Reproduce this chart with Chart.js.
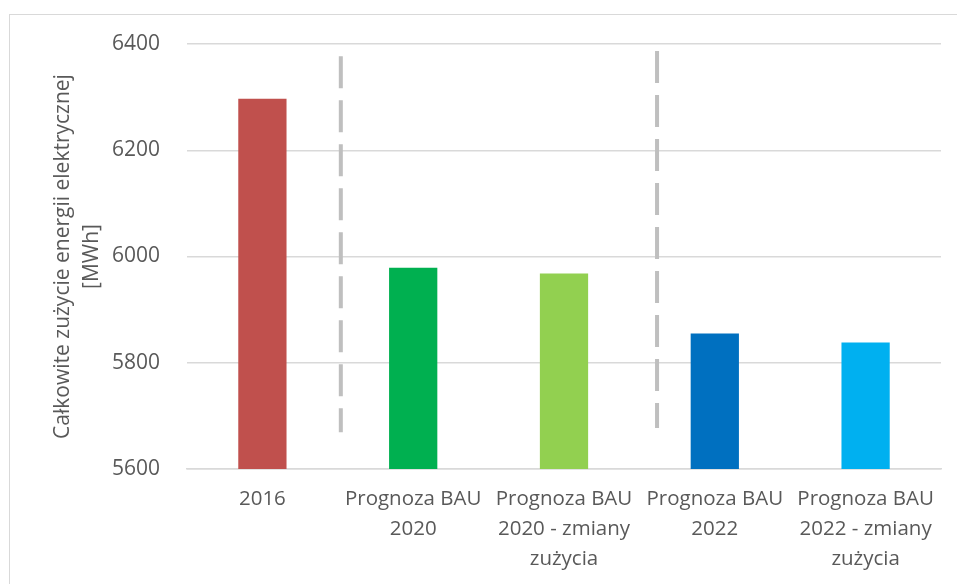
<!DOCTYPE html>
<html>
<head>
<meta charset="utf-8">
<script src="https://cdn.jsdelivr.net/npm/chart.js@4.4.0/dist/chart.umd.min.js"></script>
<style>
  html, body { margin: 0; padding: 0; background: #fff; }
  #ramka { position: absolute; left: 9px; top: 14px; width: 960px; height: 580px; border: 1px solid #d9d9d9; }
  #wykres { position: absolute; left: 0; top: 0; }
</style>
</head>
<body>
<div id="ramka"></div>
<canvas id="wykres" width="957" height="584"></canvas>
<script>
// Kategorie (osie X) i wartości zużycia [MWh]
const kategorie = [
    ['2016'],
    ['Prognoza BAU', '2020'],
    ['Prognoza BAU', '2020 - zmiany', 'zużycia'],
    ['Prognoza BAU', '2022'],
    ['Prognoza BAU', '2022 - zmiany', 'zużycia']
];
const zuzycie = [6297, 5979, 5968, 5855, 5838];
const kolory = ['#c0504d', '#00b050', '#92d050', '#0070c0', '#00b0f0'];
const podzialkaY = [5600, 5800, 6000, 6200, 6400];

// Przerywane linie oddzielające okresy (x w jednostkach indeksu kategorii)
const separatory = [
    { x: 0.52, od: 6377, do: 5669 },
    { x: 2.617, od: 6387, do: 5677 }
];

const liniePrzerywane = {
    id: 'liniePrzerywane',
    afterDatasetsDraw(chart) {
        const ctx = chart.ctx;
        const sx = chart.scales.x;
        const sy = chart.scales.y;
        ctx.save();
        ctx.strokeStyle = '#bfbfbf';
        ctx.lineWidth = 4;
        ctx.setLineDash([32, 12]);
        separatory.forEach(function(s) {
            const px = sx.getPixelForValue(s.x);
            ctx.beginPath();
            ctx.moveTo(px, sy.getPixelForValue(s.od));
            ctx.lineTo(px, sy.getPixelForValue(s.do));
            ctx.stroke();
        });
        ctx.restore();
    }
};

Chart.defaults.font.family = '"Open Sans", sans-serif';
Chart.defaults.color = '#595959';

new Chart(document.getElementById('wykres'), {
    type: 'bar',
    data: {
        labels: kategorie,
        datasets: [{
            data: zuzycie,
            backgroundColor: kolory,
            barPercentage: 0.8,
            categoryPercentage: 0.4
        }]
    },
    options: {
        responsive: false,
        animation: false,
        layout: { padding: { left: 47, top: 44, right: 16, bottom: 0 } },
        plugins: {
            legend: { display: false },
            tooltip: { enabled: false }
        },
        scales: {
            x: {
                afterFit(axis) { axis.height = 115; },
                grid: { display: false },
                border: { color: '#d9d9d9', width: 1.5 },
                ticks: {
                    font: { size: 20.5, lineHeight: 1.47 },
                    color: '#595959',
                    maxRotation: 0,
                    padding: 7
                }
            },
            y: {
                min: 5600,
                max: 6400,
                afterFit(axis) { axis.width = 140; },
                afterBuildTicks(axis) {
                    axis.ticks = podzialkaY.map(function(v) { return { value: v }; });
                },
                grid: { color: '#d9d9d9', lineWidth: 1.5, drawTicks: false },
                border: { display: false },
                ticks: {
                    font: { size: 21 },
                    color: '#595959',
                    padding: 27,
                    callback: function(v) { return String(v); }
                },
                title: {
                    display: true,
                    text: ['Całkowite zużycie energii elektrycznej', '[MWh]'],
                    font: { size: 21, lineHeight: 1.35 },
                    color: '#595959',
                    padding: 2
                }
            }
        }
    },
    plugins: [liniePrzerywane]
});
</script>
</body>
</html>
